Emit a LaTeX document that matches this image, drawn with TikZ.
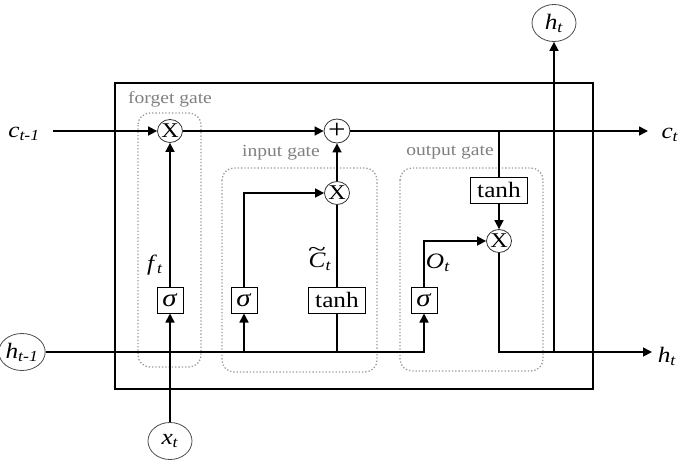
\documentclass[tikz,border=0pt]{standalone}
\usepackage{fontspec}
\setmainfont{Liberation Serif}[FakeStretch=1.15]
\usetikzlibrary{shapes.geometric,arrows.meta}
\newcommand\sublab[2]{\textit{#1}\textsubscript{\textit{#2}}}
\newcommand\tildeC{\ooalign{\textit{C}\cr\hidewidth\raisebox{0.5em}{\scalebox{1.3}[1]{\textasciitilde}}\hidewidth\cr}}
\begin{document}
\begin{tikzpicture}[x=1pt,y=-1pt,
  conn/.style={line width=1.6pt},
  arr/.style={conn,-{Triangle[length=9pt,width=9pt]}},
  op/.style={draw=black!80,line width=0.8pt,ellipse,minimum width=25pt,minimum height=23pt,inner sep=0pt,font=\fontsize{21}{21}\selectfont},
  fnbox/.style={draw,line width=1pt,minimum height=26pt,inner sep=0pt,fill=white,font=\fontsize{22}{22}\selectfont},
  sigbox/.style={fnbox,minimum width=26pt,font=\fontsize{25}{25}\selectfont},
  tanhbox/.style={fnbox,minimum width=57pt},
  io/.style={draw=black!70,line width=0.8pt,ellipse,minimum width=44pt,minimum height=37pt,inner sep=0pt,font=\fontsize{22}{22}\selectfont},
  gatebox/.style={draw=gray!80,dotted,line width=1.3pt,rounded corners=12pt},
  gatelbl/.style={text=black!50,font=\fontsize{17}{17}\selectfont},
  lbl/.style={inner sep=0pt,font=\fontsize{22}{22}\selectfont}]
\useasboundingbox (0,0) rectangle (685,463);
% gate regions
\draw[gatebox] (138,113) rectangle (201,367);
\draw[gatebox] (222,168) rectangle (377,372);
\draw[gatebox] (400,168) rectangle (543,371);
\node[gatelbl] (lforget) at (170,99) {forget gate};
\node[gatelbl] (linput) at (281,153) {input gate};
\node[gatelbl] (loutput) at (450,153) {output gate};
% main cell
\draw[line width=2pt] (115,83) rectangle (593,389);
% nodes
\node[op] (fx) at (170,131) {X};
\node[op,minimum width=26pt,minimum height=24pt,font=\fontsize{27}{27}\selectfont] (plus) at (337,131) {+};
\node[op] (ix) at (337,193) {X};
\node[op] (ox) at (499,241) {X};
\node[tanhbox] (tanho) at (499,190) {tanh};
\node[sigbox] (sigf) at (170,300) {\textit{σ}};
\node[sigbox] (sigi) at (244,300) {\textit{σ}};
\node[tanhbox] (tanhi) at (337,300) {tanh};
\node[sigbox] (sigo) at (424,300) {\textit{σ}};
\node[io] (hprev) at (22,352) {\sublab{h}{t-1}};
\node[io] (xt) at (170,441) {\sublab{x}{t}};
\node[io] (ht) at (554,23) {\sublab{h}{t}};
\node[lbl] (lcprev) at (24,134) {\sublab{c}{t-1}};
\node[lbl] (lct) at (670,135) {\sublab{c}{t}};
\node[lbl] (lht) at (667,356) {\sublab{h}{t}};
\node[lbl] (lft) at (155,265) {\sublab{f}{t}};
\node[lbl] (lct2) at (320,262) {\tildeC\textsubscript{\textit{t}}};
\node[lbl] (lot) at (438,263) {\sublab{O}{t}};
% free ends and junctions
\coordinate (cstart) at (53,131);
\coordinate (cend) at (648,131);
\coordinate (hend) at (652,352);
% connectors
\draw[arr] (cstart) -- (fx.west);
\draw[arr] (fx.east) -- (plus.west);
\draw[arr] (plus.east) -- (cend);
\draw[conn] (tanho.north |- plus) -- (tanho.north);
\draw[arr] (tanho.south) -- (ox.north);
\draw[arr] (ox.south) -- (ox.south |- hend) -- (hend);
\draw[arr] (ht.south |- hend) -- (ht.south);
\draw[arr] (hprev.east) -- (sigo.south |- hprev) -- (sigo.south);
\draw[arr] (sigo.north) -- (sigo.north |- ox) -- (ox.west);
\draw[arr] (xt.north) -- (sigf.south);
\draw[arr] (sigf.north) -- (fx.south);
\draw[arr] (sigi.south |- hprev) -- (sigi.south);
\draw[arr] (sigi.north) -- (sigi.north |- ix) -- (ix.west);
\draw[conn] (tanhi.south |- hprev) -- (tanhi.south);
\draw[conn] (tanhi.north) -- (ix.south);
\draw[arr] (ix.north) -- (plus.south);
\end{tikzpicture}
\end{document}
